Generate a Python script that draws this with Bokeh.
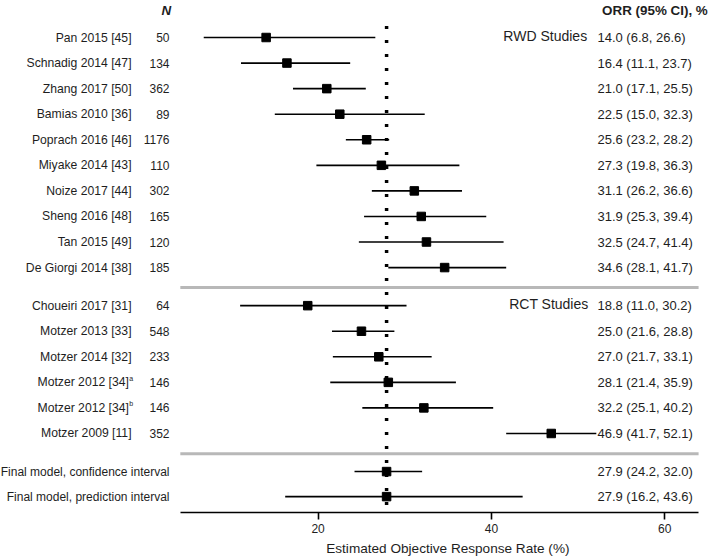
from bokeh.plotting import figure
from bokeh.models import Range1d, LinearAxis, FixedTicker, ColumnDataSource
from bokeh.core.properties import value
from bokeh.embed import file_html
from bokeh.resources import INLINE

# ---------------- data ----------------
rwd_studies = ["Pan 2015 [45]", "Schnadig 2014 [47]", "Zhang 2017 [50]", "Bamias 2010 [36]",
               "Poprach 2016 [46]", "Miyake 2014 [43]", "Noize 2017 [44]", "Sheng 2016 [48]",
               "Tan 2015 [49]", "De Giorgi 2014 [38]"]
rwd_n = [50, 134, 362, 89, 1176, 110, 302, 165, 120, 185]
rwd_orr = [14.0, 16.4, 21.0, 22.5, 25.6, 27.3, 31.1, 31.9, 32.5, 34.6]
rwd_lo = [6.8, 11.1, 17.1, 15.0, 23.2, 19.8, 26.2, 25.3, 24.7, 28.1]
rwd_hi = [26.6, 23.7, 25.5, 32.3, 28.2, 36.3, 36.6, 39.4, 41.4, 41.7]

rct_studies = ["Choueiri 2017 [31]", "Motzer 2013 [33]", "Motzer 2014 [32]", "Motzer 2012 [34]",
               "Motzer 2012 [34]", "Motzer 2009 [11]"]
rct_sup = ["", "", "", "a", "b", ""]
rct_n = [64, 548, 233, 146, 146, 352]
rct_orr = [18.8, 25.0, 27.0, 28.1, 32.2, 46.9]
rct_lo = [11.0, 21.6, 21.7, 21.4, 25.1, 41.7]
rct_hi = [30.2, 28.8, 33.1, 35.9, 40.2, 52.1]

final_labels = ["Final model, confidence interval", "Final model, prediction interval"]
final_orr = [27.9, 27.9]
final_lo = [24.2, 16.2]
final_hi = [32.0, 43.6]

pooled_orr = 27.9
x_ticks = [20, 40, 60]
group_labels = ["RWD Studies", "RCT Studies"]
header_n = "N"
header_orr = "ORR (95% CI), %"
x_title = "Estimated Objective Response Rate (%)"

# ---------------- layout (row positions) ----------------
rwd_rows = [1 + i for i in range(len(rwd_studies))]
sep1 = 10.78
rct_rows = [11.49 + i for i in range(len(rct_studies))]
sep2 = 17.28
final_rows = [17.98, 18.96]
axis_row = 19.58
title_row = 20.99
header_row = -0.06

FONT = value("Liberation Sans")
TXT = "#1e1e1e"

def fmt(e, l, h):
    return f"{e:.1f} ({l:.1f}, {h:.1f})"

p = figure(width=709, height=559,
           x_range=Range1d(-16.65, 65.16), y_range=Range1d(21.42, -0.448),
           output_backend="svg", toolbar_location=None,
           x_axis_location=None, y_axis_location=None,
           min_border_left=0, min_border_right=0, min_border_top=0, min_border_bottom=0)
p.outline_line_color = None
p.background_fill_color = "white"
p.border_fill_color = "white"
p.xgrid.visible = False
p.ygrid.visible = False

xaxis = LinearAxis(ticker=FixedTicker(ticks=x_ticks), bounds=(4.1, 63.9), fixed_location=axis_row)
xaxis.axis_line_color = "black"
xaxis.axis_line_width = 1.6
xaxis.major_tick_line_color = "black"
xaxis.major_tick_line_width = 1.6
xaxis.major_tick_in = 0
xaxis.major_tick_out = 7
xaxis.minor_tick_line_color = None
xaxis.major_label_text_font = "Liberation Sans"
xaxis.major_label_text_font_size = "12px"
xaxis.major_label_text_color = TXT
xaxis.major_label_standoff = 5
p.add_layout(xaxis, "below")

# separators
p.segment(x0=[4.1, 4.1], y0=[sep1, sep2], x1=[63.9, 63.9], y1=[sep1, sep2],
          line_color="#b8b8b8", line_width=3)

# pooled dotted line
p.segment(x0=[pooled_orr], y0=[0.55], x1=[pooled_orr], y1=[axis_row],
          line_color="black", line_width=3.5, line_dash="3 11")

# intervals and points
all_rows = rwd_rows + rct_rows + final_rows
all_orr = rwd_orr + rct_orr + final_orr
all_lo = rwd_lo + rct_lo + final_lo
all_hi = rwd_hi + rct_hi + final_hi
src = ColumnDataSource(dict(y=all_rows, est=all_orr, lo=all_lo, hi=all_hi,
                            txt=[fmt(e, l, h) for e, l, h in zip(all_orr, all_lo, all_hi)]))
p.segment(x0="lo", y0="y", x1="hi", y1="y", source=src, line_color="black", line_width=1.6)
p.scatter(x="est", y="y", source=src, marker="square", size=8.5, fill_color="black", line_color="black")

# ORR text column
p.text(x=52.23, y="y", text="txt", source=src, text_font=FONT, text_font_size="13px",
       text_color=TXT, text_align="left", text_baseline="middle")

# study labels
lab_src = ColumnDataSource(dict(y=rwd_rows + rct_rows,
                                name=rwd_studies + rct_studies,
                                sup=[""] * len(rwd_studies) + rct_sup,
                                n=[str(v) for v in rwd_n + rct_n]))
lab_src.data["nx"] = [-1.53] * len(rwd_studies) + [(-1.83 if s else -1.53) for s in rct_sup]
p.text(x="nx", y="y", text="name", source=lab_src, text_font=FONT, text_font_size="12.2px",
       text_color=TXT, text_align="right", text_baseline="middle")
p.text(x=-1.8, y="y", text="sup", source=lab_src, text_font=FONT, text_font_size="7px",
       text_color=TXT, text_align="left", text_baseline="middle", y_offset=-4)
p.text(x=2.85, y="y", text="n", source=lab_src, text_font=FONT, text_font_size="12px",
       text_color=TXT, text_align="right", text_baseline="middle")

# final model labels
p.text(x=[2.85, 2.85], y=final_rows, text=final_labels, text_font=FONT, text_font_size="12px",
       text_color=TXT, text_align="right", text_baseline="middle")

# group labels
p.text(x=[51.04, 51.2], y=[rwd_rows[0], rct_rows[0]], text=group_labels, text_font=FONT,
       text_font_size="14px", text_color=TXT, text_align="right", text_baseline="middle",
       y_offset=-2)

# headers
p.text(x=[3.05], y=[header_row], text=[header_n], text_font=FONT, text_font_size="13.4px",
       text_font_style="bold italic", text_color=TXT, text_align="right", text_baseline="middle")
p.text(x=[52.77], y=[header_row], text=[header_orr], text_font=FONT, text_font_size="13.4px",
       text_font_style="bold", text_color=TXT, text_align="left", text_baseline="middle")

# x axis title
p.text(x=[34.97], y=[title_row], text=[x_title], text_font=FONT, text_font_size="13.6px",
       text_color=TXT, text_align="center", text_baseline="middle")

open("out.html", "w").write(file_html(p, INLINE))
